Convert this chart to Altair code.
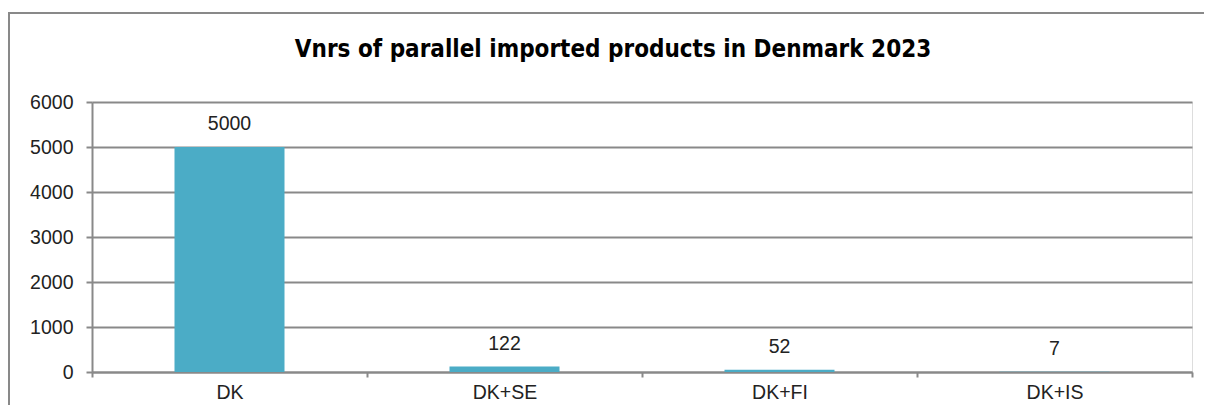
import altair as alt
import pandas as pd

categories = ["DK", "DK+SE", "DK+FI", "DK+IS"]
values = [5000, 122, 52, 7]
title_text = "Vnrs of parallel imported products in Denmark 2023"

df = pd.DataFrame({"cat": categories, "val": values})

W, H = 1100, 270
GRAY = "#898989"
FONT = "Liberation Sans"
FS = 19.5

base = alt.Chart(df)

x_enc = alt.X("cat:N", sort=categories, title=None,
              scale=alt.Scale(paddingInner=0, paddingOuter=0),
              axis=alt.Axis(labelAngle=0, tickBand="extent", domainColor=GRAY, domainWidth=2,
                            tickColor=GRAY, tickWidth=2, tickSize=5, labelPadding=6,
                            labelFontSize=FS, labelFont=FONT, labelColor="#222222"))
y_enc = alt.Y("val:Q", title=None,
              scale=alt.Scale(domain=[0, 6000], nice=False),
              axis=alt.Axis(values=[0, 1000, 2000, 3000, 4000, 5000, 6000], grid=True, format="d",
                            gridColor=GRAY, gridWidth=2, domainColor=GRAY, domainWidth=2,
                            tickColor=GRAY, tickWidth=2, tickSize=6, labelPadding=13,
                            labelFontSize=FS, labelFont=FONT, labelColor="#222222"))

bars = base.mark_bar(color="#4BACC6", width=alt.RelativeBandSize(0.4)).encode(x=x_enc, y=y_enc)
labels = base.mark_text(baseline="middle", dy=-23, fontSize=FS, font=FONT, color="#222222").encode(
    x=alt.X("cat:N", sort=categories), y="val:Q", text="val:Q")

title = alt.Chart(alt.Data(values=[{"t": title_text}])).mark_text(
    font="DejaVu Sans Condensed", fontSize=24, fontWeight="bold", color="#000000",
    baseline="middle", align="center").encode(
    x=alt.value(521), y=alt.value(-52), text="t:N")

border = alt.Chart(alt.Data(values=[{"a": 1}])).mark_rect(
    fill=None, stroke=GRAY, strokeWidth=2).encode(
    x=alt.value(-83), x2=alt.value(1300), y=alt.value(-89), y2=alt.value(500))

chart = alt.layer(border, bars, labels, title).properties(
    width=W, height=H,
    autosize=alt.AutoSizeParams(type="none"),
    padding={"left": 84, "top": 94, "right": 12, "bottom": 33},
).configure_view(stroke=None).configure(background="white")

chart.save("out.html", embed_options={"renderer": "svg", "actions": False})
